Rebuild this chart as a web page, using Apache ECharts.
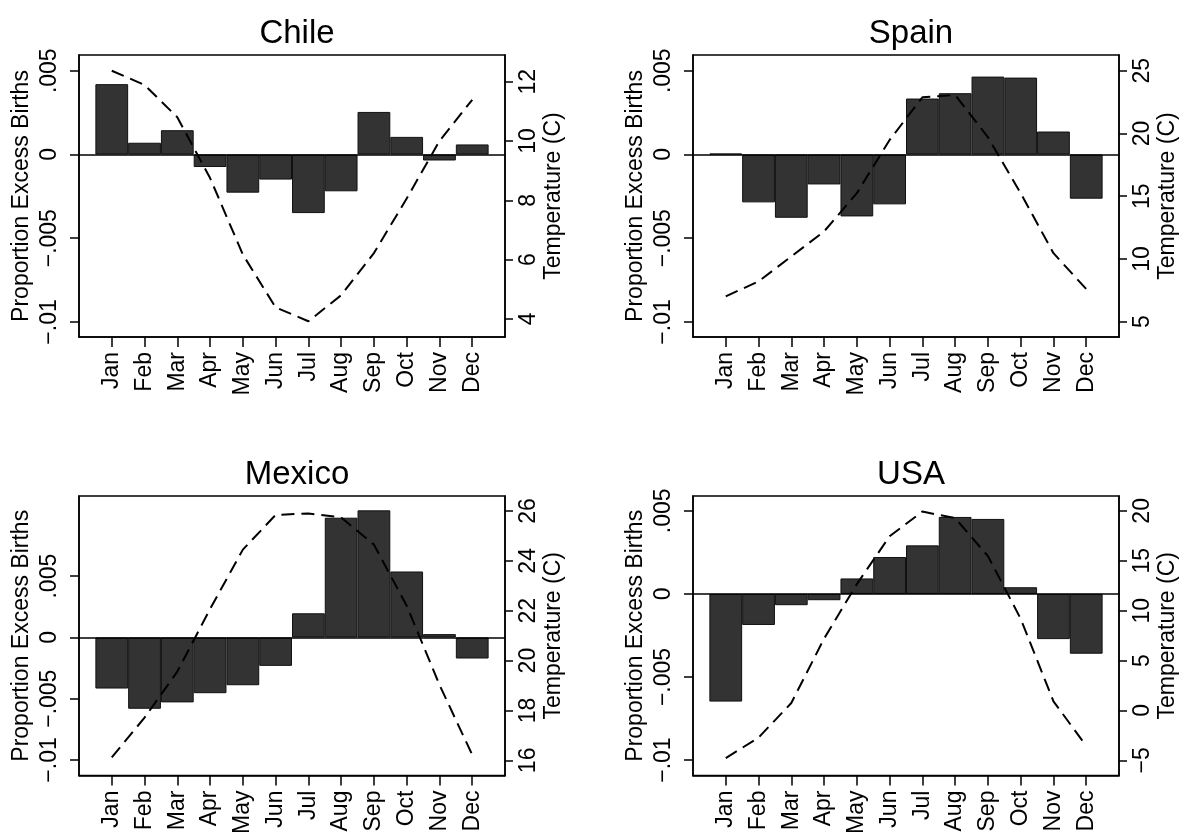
<!DOCTYPE html>
<html>
<head>
<meta charset="utf-8">
<script src="https://cdn.jsdelivr.net/npm/echarts@6/dist/echarts.min.js"></script>
<style>
html,body{margin:0;padding:0;background:#fff;}
#c{width:1191px;height:837px;}
</style>
</head>
<body>
<div id="c"></div>
<script>
// ---- data ----
const months = ['Jan','Feb','Mar','Apr','May','Jun','Jul','Aug','Sep','Oct','Nov','Dec'];
const countries = ['Chile','Spain','Mexico','USA'];

const birthsChile  = [0.0042, 0.0007, 0.00145, -0.00075, -0.00228, -0.0015, -0.0035, -0.0022, 0.00254, 0.00105, -0.00036, 0.0006];
const birthsSpain  = [0.00005, -0.00286, -0.00378, -0.00179, -0.0037, -0.00298, 0.00334, 0.00366, 0.00465, 0.00459, 0.00137, -0.00264];
const birthsMexico = [-0.00417, -0.00582, -0.0053, -0.00455, -0.0039, -0.00232, 0.00197, 0.00977, 0.01037, 0.00538, 0.00027, -0.00172];
const birthsUSA    = [-0.00648, -0.00187, -0.00068, -0.00038, 0.00093, 0.00222, 0.00292, 0.00463, 0.00451, 0.0004, -0.00272, -0.0036];

const tempChile  = [12.37, 11.89, 10.8, 8.75, 6.17, 4.39, 3.92, 4.8, 6.22, 8.06, 10.0, 11.39];
const tempSpain  = [7.02, 8.21, 10.2, 12.19, 15.24, 19.48, 22.88, 23.06, 19.7, 15.24, 10.46, 7.6];
const tempMexico = [16.12, 17.71, 19.56, 22.07, 24.45, 25.84, 25.9, 25.74, 24.65, 22.2, 19.03, 16.22];
const tempUSA    = [-4.77, -2.72, 0.75, 7.2, 12.66, 17.45, 19.93, 19.27, 15.47, 9.19, 0.92, -3.55];

const birthTicks = [-0.01, -0.005, 0, 0.005];
const tempTicksChile  = [4, 6, 8, 10, 12];
const tempTicksSpain  = [5, 10, 15, 20, 25];
const tempTicksMexico = [16, 18, 20, 22, 24, 26];
const tempTicksUSA    = [-5, 0, 5, 10, 15, 20];

const birthRange = [[-0.0109, 0.00594], [-0.0109, 0.00594], [-0.01127, 0.01154], [-0.01093, 0.00589]];
const tempRange  = [[3.39, 12.9], [3.78, 26.25], [15.39, 26.6], [-6.52, 21.49]];

const births = [birthsChile, birthsSpain, birthsMexico, birthsUSA];
const temps  = [tempChile, tempSpain, tempMexico, tempUSA];
const tempTicks = [tempTicksChile, tempTicksSpain, tempTicksMexico, tempTicksUSA];

// ---- layout ----
const FONT = "'Liberation Sans', Arial, Helvetica, sans-serif";
const gridPos = [
  {left: 79,  top: 55},
  {left: 693, top: 55},
  {left: 79,  top: 496},
  {left: 693, top: 496}
];
const GW = 426, GH = 282;

function fmtBirth(v){
  if (Math.abs(v) < 1e-12) return '0';
  const s = String(Math.abs(+v.toFixed(6))).replace(/^0/, '');
  return (v < 0 ? '\u2212' : '') + s;
}
function fmtTemp(v){
  return (v < 0 ? '\u2212' : '') + Math.abs(v);
}

const pad = arr => [null].concat(arr, [null]);
const cats = [''].concat(months, ['']);

const option = {
  animation: false,
  backgroundColor: '#fff',
  title: [], grid: [], xAxis: [], yAxis: [], series: []
};

const axisLineStyle = {color: '#000', width: 1.5};

for (let i = 0; i < 4; i++) {
  const g = gridPos[i];
  option.title.push({
    text: countries[i],
    left: g.left + GW / 2,
    top: g.top - 43,
    textAlign: 'center',
    textStyle: {fontFamily: FONT, fontSize: 33, fontWeight: 'normal', color: '#000', lineHeight: 33}
  });
  option.grid.push({
    left: g.left, top: g.top, width: GW, height: GH,
    show: true, borderColor: '#000', borderWidth: 1.5, backgroundColor: 'transparent'
  });
  option.xAxis.push({
    type: 'category', gridIndex: i, data: cats, boundaryGap: false,
    axisLine: {show: true, onZero: false, lineStyle: axisLineStyle},
    axisTick: {show: true, length: 10, interval: (idx) => idx > 0 && idx < 13, lineStyle: axisLineStyle},
    axisLabel: {interval: 0, rotate: 90, margin: 15, fontSize: 23, fontFamily: FONT, color: '#000'},
    splitLine: {show: false}
  });
  option.yAxis.push({
    type: 'value', gridIndex: i, position: 'left',
    min: birthRange[i][0], max: birthRange[i][1],
    name: 'Proportion Excess Births', nameLocation: 'middle', nameGap: 46,
    nameTextStyle: {fontFamily: FONT, fontSize: 23, color: '#000'},
    axisLine: {show: true, onZero: false, lineStyle: axisLineStyle},
    axisTick: {show: true, length: 9, customValues: birthTicks, lineStyle: axisLineStyle},
    axisLabel: {customValues: birthTicks, rotate: 90, margin: 18, fontSize: 23, fontFamily: FONT, color: '#000', formatter: fmtBirth},
    splitLine: {show: false}
  });
  option.yAxis.push({
    type: 'value', gridIndex: i, position: 'right',
    min: tempRange[i][0], max: tempRange[i][1],
    name: 'Temperature (C)', nameLocation: 'middle', nameGap: 37, nameRotate: 90,
    nameTextStyle: {fontFamily: FONT, fontSize: 23, color: '#000'},
    axisLine: {show: true, onZero: false, lineStyle: axisLineStyle},
    axisTick: {show: true, length: 8, customValues: tempTicks[i], lineStyle: axisLineStyle},
    axisLabel: {customValues: tempTicks[i], rotate: 90, margin: 12, fontSize: 23, fontFamily: FONT, color: '#000', formatter: fmtTemp},
    splitLine: {show: false}
  });
  option.series.push({
    type: 'bar', xAxisIndex: i, yAxisIndex: 2 * i,
    data: pad(births[i]),
    barCategoryGap: '0%', barGap: '0%',
    itemStyle: {color: '#333333', borderColor: '#111', borderWidth: 1},
    markLine: {
      silent: true, symbol: 'none', label: {show: false},
      lineStyle: {color: '#000', width: 1.5, type: 'solid'},
      data: [{yAxis: 0}]
    },
    z: 2
  });
  option.series.push({
    type: 'line', xAxisIndex: i, yAxisIndex: 2 * i + 1,
    data: pad(temps[i]),
    symbol: 'none', connectNulls: false,
    lineStyle: {color: '#000', width: 2, type: [13, 7]},
    z: 3
  });
}

const chart = echarts.init(document.getElementById('c'), null, {renderer: 'canvas'});
chart.setOption(option);
</script>
</body>
</html>
